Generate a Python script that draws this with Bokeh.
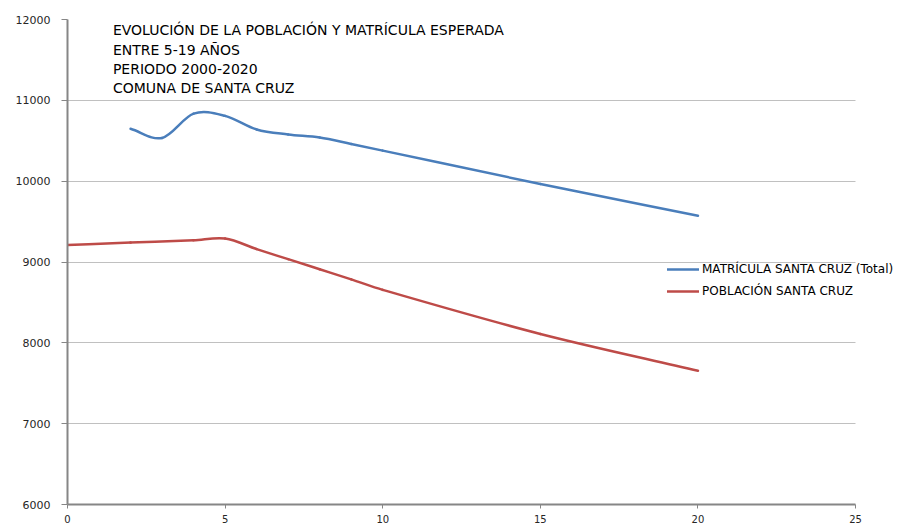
from bokeh.plotting import figure
from bokeh.models import Range1d, SingleIntervalTicker, Label, Legend
from bokeh.embed import file_html
from bokeh.resources import INLINE

# ---- data ----
matricula_x = [2, 3, 4, 5, 6, 7, 8, 9, 10, 15, 20]
matricula_y = [10648, 10535, 10835, 10808, 10640, 10578, 10540, 10460, 10378, 9965, 9571]

poblacion_x = [0, 2, 4, 5, 6, 7, 8, 9, 10, 15, 20]
poblacion_y = [9210, 9240, 9268, 9290, 9160, 9035, 8910, 8785, 8655, 8110, 7655]

title_lines = [
    "EVOLUCIÓN DE LA POBLACIÓN Y MATRÍCULA ESPERADA",
    "ENTRE 5-19 AÑOS",
    "PERIODO 2000-2020",
    "COMUNA DE SANTA CRUZ",
]
series_names = ["MATRÍCULA SANTA CRUZ (Total)", "POBLACIÓN SANTA CRUZ"]
x_axis_bounds = (0, 25)
y_axis_bounds = (6000, 12000)
x_ticks_interval = 5
y_ticks_interval = 1000


def smooth_segments(xs, ys):
    """Cubic Hermite (finite-difference tangents) as Bezier segments through the data."""
    n = len(xs)
    m = []
    for i in range(n):
        if i == 0:
            m.append((ys[1] - ys[0]) / (xs[1] - xs[0]))
        elif i == n - 1:
            m.append((ys[-1] - ys[-2]) / (xs[-1] - xs[-2]))
        else:
            m.append((ys[i + 1] - ys[i - 1]) / (xs[i + 1] - xs[i - 1]))
    out = dict(x0=[], y0=[], x1=[], y1=[], cx0=[], cy0=[], cx1=[], cy1=[])
    for i in range(n - 1):
        h = xs[i + 1] - xs[i]
        out["x0"].append(xs[i]); out["y0"].append(ys[i])
        out["x1"].append(xs[i + 1]); out["y1"].append(ys[i + 1])
        out["cx0"].append(xs[i] + h / 3.0)
        out["cy0"].append(ys[i] + m[i] * h / 3.0)
        out["cx1"].append(xs[i + 1] - h / 3.0)
        out["cy1"].append(ys[i + 1] - m[i + 1] * h / 3.0)
    return out


# the plot area runs to the right edge so that the legend is not clipped;
# axis and grid lines are bounded to 0..25 as in the reference
p = figure(width=915, height=526, output_backend="svg", toolbar_location=None,
           x_range=Range1d(x_axis_bounds[0], 26.9), y_range=Range1d(*y_axis_bounds),
           min_border_left=67, min_border_right=0, min_border_top=19,
           min_border_bottom=22)
p.outline_line_color = None
p.background_fill_color = "white"
p.border_fill_color = "white"

p.xgrid.grid_line_color = None
p.ygrid.grid_line_color = "#c0c0c0"
p.ygrid.grid_line_width = 1
p.ygrid.cross_bounds = x_axis_bounds

p.xaxis.ticker = SingleIntervalTicker(interval=x_ticks_interval)
p.yaxis.ticker = SingleIntervalTicker(interval=y_ticks_interval)
p.xaxis.bounds = x_axis_bounds
for ax in (p.xaxis[0], p.yaxis[0]):
    ax.axis_line_color = "#868686"
    ax.axis_line_width = 2
    ax.major_tick_line_color = "#868686"
    ax.major_tick_in = 0
    ax.minor_tick_line_color = None
    ax.major_label_text_font = "DejaVu Sans"
    ax.major_label_text_color = "#262626"
p.yaxis.major_label_text_font_size = "11px"
p.xaxis.major_label_text_font_size = "10px"
p.yaxis.major_tick_out = 6
p.yaxis.major_label_standoff = 11
p.xaxis.major_tick_out = 4
p.xaxis.major_label_standoff = 6

colors = ["#4a7ebb", "#be4b48"]
renderers = []
for xs, ys, c in ((matricula_x, matricula_y, colors[0]), (poblacion_x, poblacion_y, colors[1])):
    seg = smooth_segments(xs, ys)
    r = p.bezier(x0="x0", y0="y0", x1="x1", y1="y1", cx0="cx0", cy0="cy0",
                 cx1="cx1", cy1="cy1", source=seg, line_color=c, line_width=2.5,
                 line_cap="round")
    renderers.append(r)

legend = Legend(items=[(series_names[0], [renderers[0]]), (series_names[1], [renderers[1]])],
                location=(600, 206), orientation="vertical",
                background_fill_alpha=0, border_line_color=None,
                padding=0, margin=0, spacing=8, glyph_width=32, glyph_height=14,
                label_height=14, label_standoff=3,
                label_text_font="DejaVu Sans", label_text_font_size="12px",
                label_text_color="#000000")
p.add_layout(legend, "center")

for i, t in enumerate(title_lines):
    p.add_layout(Label(x=1.44, y=11864 - i * 237.5, text=t, text_baseline="middle",
                       text_font="DejaVu Sans", text_font_size="14px",
                       text_color="#000000"))

open("out.html", "w").write(file_html(p, INLINE))
